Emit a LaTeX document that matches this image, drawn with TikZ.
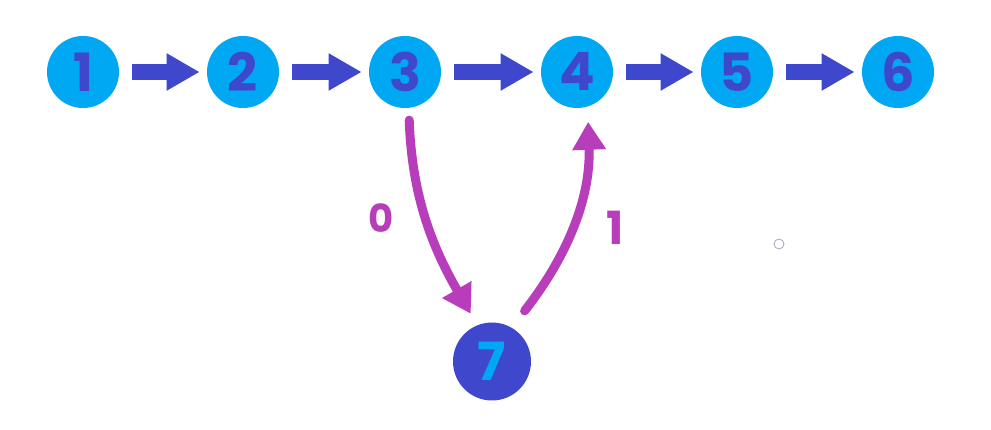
\documentclass[tikz,border=0pt]{standalone}
\usepackage{fontspec}
\newfontfamily\handfont{Poppins}
\usetikzlibrary{arrows.meta}
\definecolor{skyblue}{RGB}{0,168,243}
\definecolor{indigo}{RGB}{63,72,204}
\definecolor{orchid}{RGB}{184,61,186}
\definecolor{cursorgray}{RGB}{170,170,200}
\begin{document}
\begin{tikzpicture}[
    state/.style={circle, fill=skyblue, text=indigo, minimum size=14.4mm, inner sep=0pt,
      font=\handfont\bfseries\fontsize{30}{30}\selectfont},
    newstate/.style={state, fill=indigo, text=skyblue, minimum size=15.6mm},
    next/.style={indigo, line width=3.2mm, -{Triangle[length=6.6mm, width=7mm]},
      shorten <=2.6mm, shorten >=1.4mm},
    jump/.style={orchid, line width=1.8mm, line cap=round, -{Triangle[length=5.6mm, width=6.4mm]}},
    bit/.style={text=orchid, font=\handfont\bfseries\fontsize{26}{26}\selectfont}]
    \useasboundingbox (0,0) rectangle (19.82,8.6);
    \node[state] (n1) at (1.66,7.16)  {1};
    \node[state] (n2) at (4.86,7.16)  {2};
    \node[state] (n3) at (8.10,7.16)  {3};
    \node[state] (n4) at (11.54,7.16) {4};
    \node[state] (n5) at (14.74,7.16) {5};
    \node[state] (n6) at (17.96,7.16) {6};
    \node[newstate] (n7) at (9.84,1.37) {7};
    \draw[next] (n1) -- (n2);
    \draw[next] (n2) -- (n3);
    \draw[next] (n3) -- (n4);
    \draw[next] (n4) -- (n5);
    \draw[next] (n5) -- (n6);
    % bypass through node 7
    \draw[jump, shorten <=2.4mm, shorten >=2.6mm] (n3.-84) to[out=-88, in=120] (n7.112);
    \draw[jump, shorten <=4.2mm, shorten >=3.0mm] (n7.60) to[out=52, in=-88] (n4.-73);
    \node[bit] (b0) at (7.62,4.24) {\fontsize{22}{22}\selectfont 0};
    \node[bit] (b1) at (12.30,4.04) {1};
    \node[circle, draw=cursorgray, line width=0.5pt, minimum size=2mm, inner sep=0pt] (dot) at (15.58,3.72) {};
\end{tikzpicture}
\end{document}
